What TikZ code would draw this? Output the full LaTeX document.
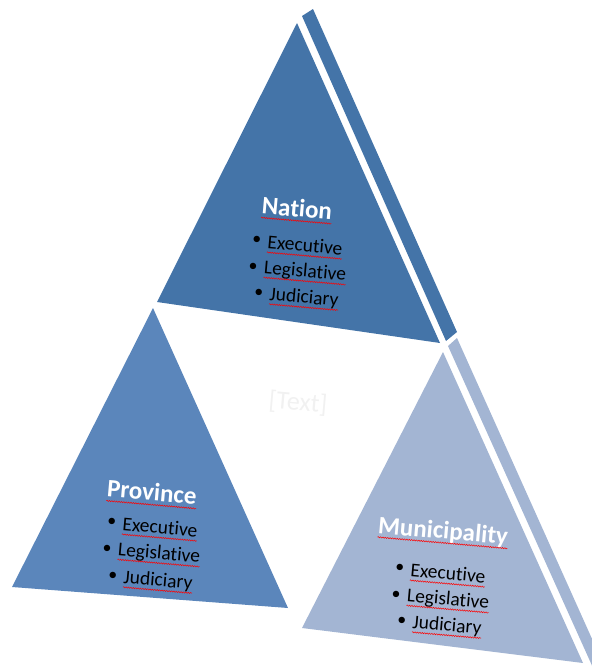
\documentclass[tikz,border=0pt]{standalone}
\usepackage{fontspec}
\setmainfont[Ligatures=NoCommon]{Carlito}
\usetikzlibrary{decorations.pathmorphing}
\definecolor{nationblue}{RGB}{68,116,168}
\definecolor{provblue}{RGB}{91,134,187}
\definecolor{munblue}{RGB}{163,181,211}
\definecolor{faint}{RGB}{241,241,241}
\tikzset{
  title/.style={text=white, font=\bfseries\fontsize{25}{25}\selectfont, inner sep=0pt, rotate=-5},
  branch/.style={text=black, font=\fontsize{19.5}{19.5}\selectfont, inner sep=0pt, rotate=-5,
                 label={[text=black, font=\fontsize{18}{18}\selectfont, inner sep=0pt, xshift=-6pt, yshift=-3pt]left:\textbullet}},
  squiggle/.style={red, line width=0.5pt, decorate,
                   decoration={snake, amplitude=0.6pt, segment length=2.4pt}}
}
\begin{document}
\begin{tikzpicture}[x=1pt, y=-1pt]
\useasboundingbox (0,0) rectangle (592,670);
% nation
\fill[nationblue] (297,23) -- (157,302) -- (440,343) -- cycle;
\fill[nationblue] (302,16) -- (313,9) -- (457,332) -- (446,341) -- cycle;
% province
\fill[provblue] (153,308) -- (12,587) -- (288,608) -- cycle;
% municipality
\fill[munblue] (443,352) -- (302,628) -- (583,663) -- cycle;
\begin{scope}
\clip (0,0) rectangle (592,670);
\fill[munblue] (448,346) -- (457,338) -- (606,670) -- (594,670) -- cycle;
\end{scope}
% centre
\node[text=faint, font=\fontsize{26}{26}\selectfont, rotate=-5] (txt) at (298,403) {[Text]};
% labels
\node[title] (nat) at (297,208) {Nation};
\node[branch] (nat1) at (305,245) {Executive};
\node[branch] (nat2) at (305,272) {Legislative};
\node[branch] (nat3) at (304,298) {Judiciary};
\node[title] (prv) at (152,492) {Province};
\node[branch] (prv1) at (160,527) {Executive};
\node[branch] (prv2) at (159,554) {Legislative};
\node[branch] (prv3) at (158,581) {Judiciary};
\node[title] (mun) at (443,532) {Municipality};
\node[branch] (mun1) at (448,573) {Executive};
\node[branch] (mun2) at (448,600) {Legislative};
\node[branch] (mun3) at (447,626) {Judiciary};
\foreach \n in {nat,nat1,nat2,nat3,prv,prv1,prv2,prv3,mun,mun1,mun2,mun3}
  \draw[squiggle] ([yshift=-4pt]\n.base west) -- ([yshift=-4pt]\n.base east);
\end{tikzpicture}
\end{document}
